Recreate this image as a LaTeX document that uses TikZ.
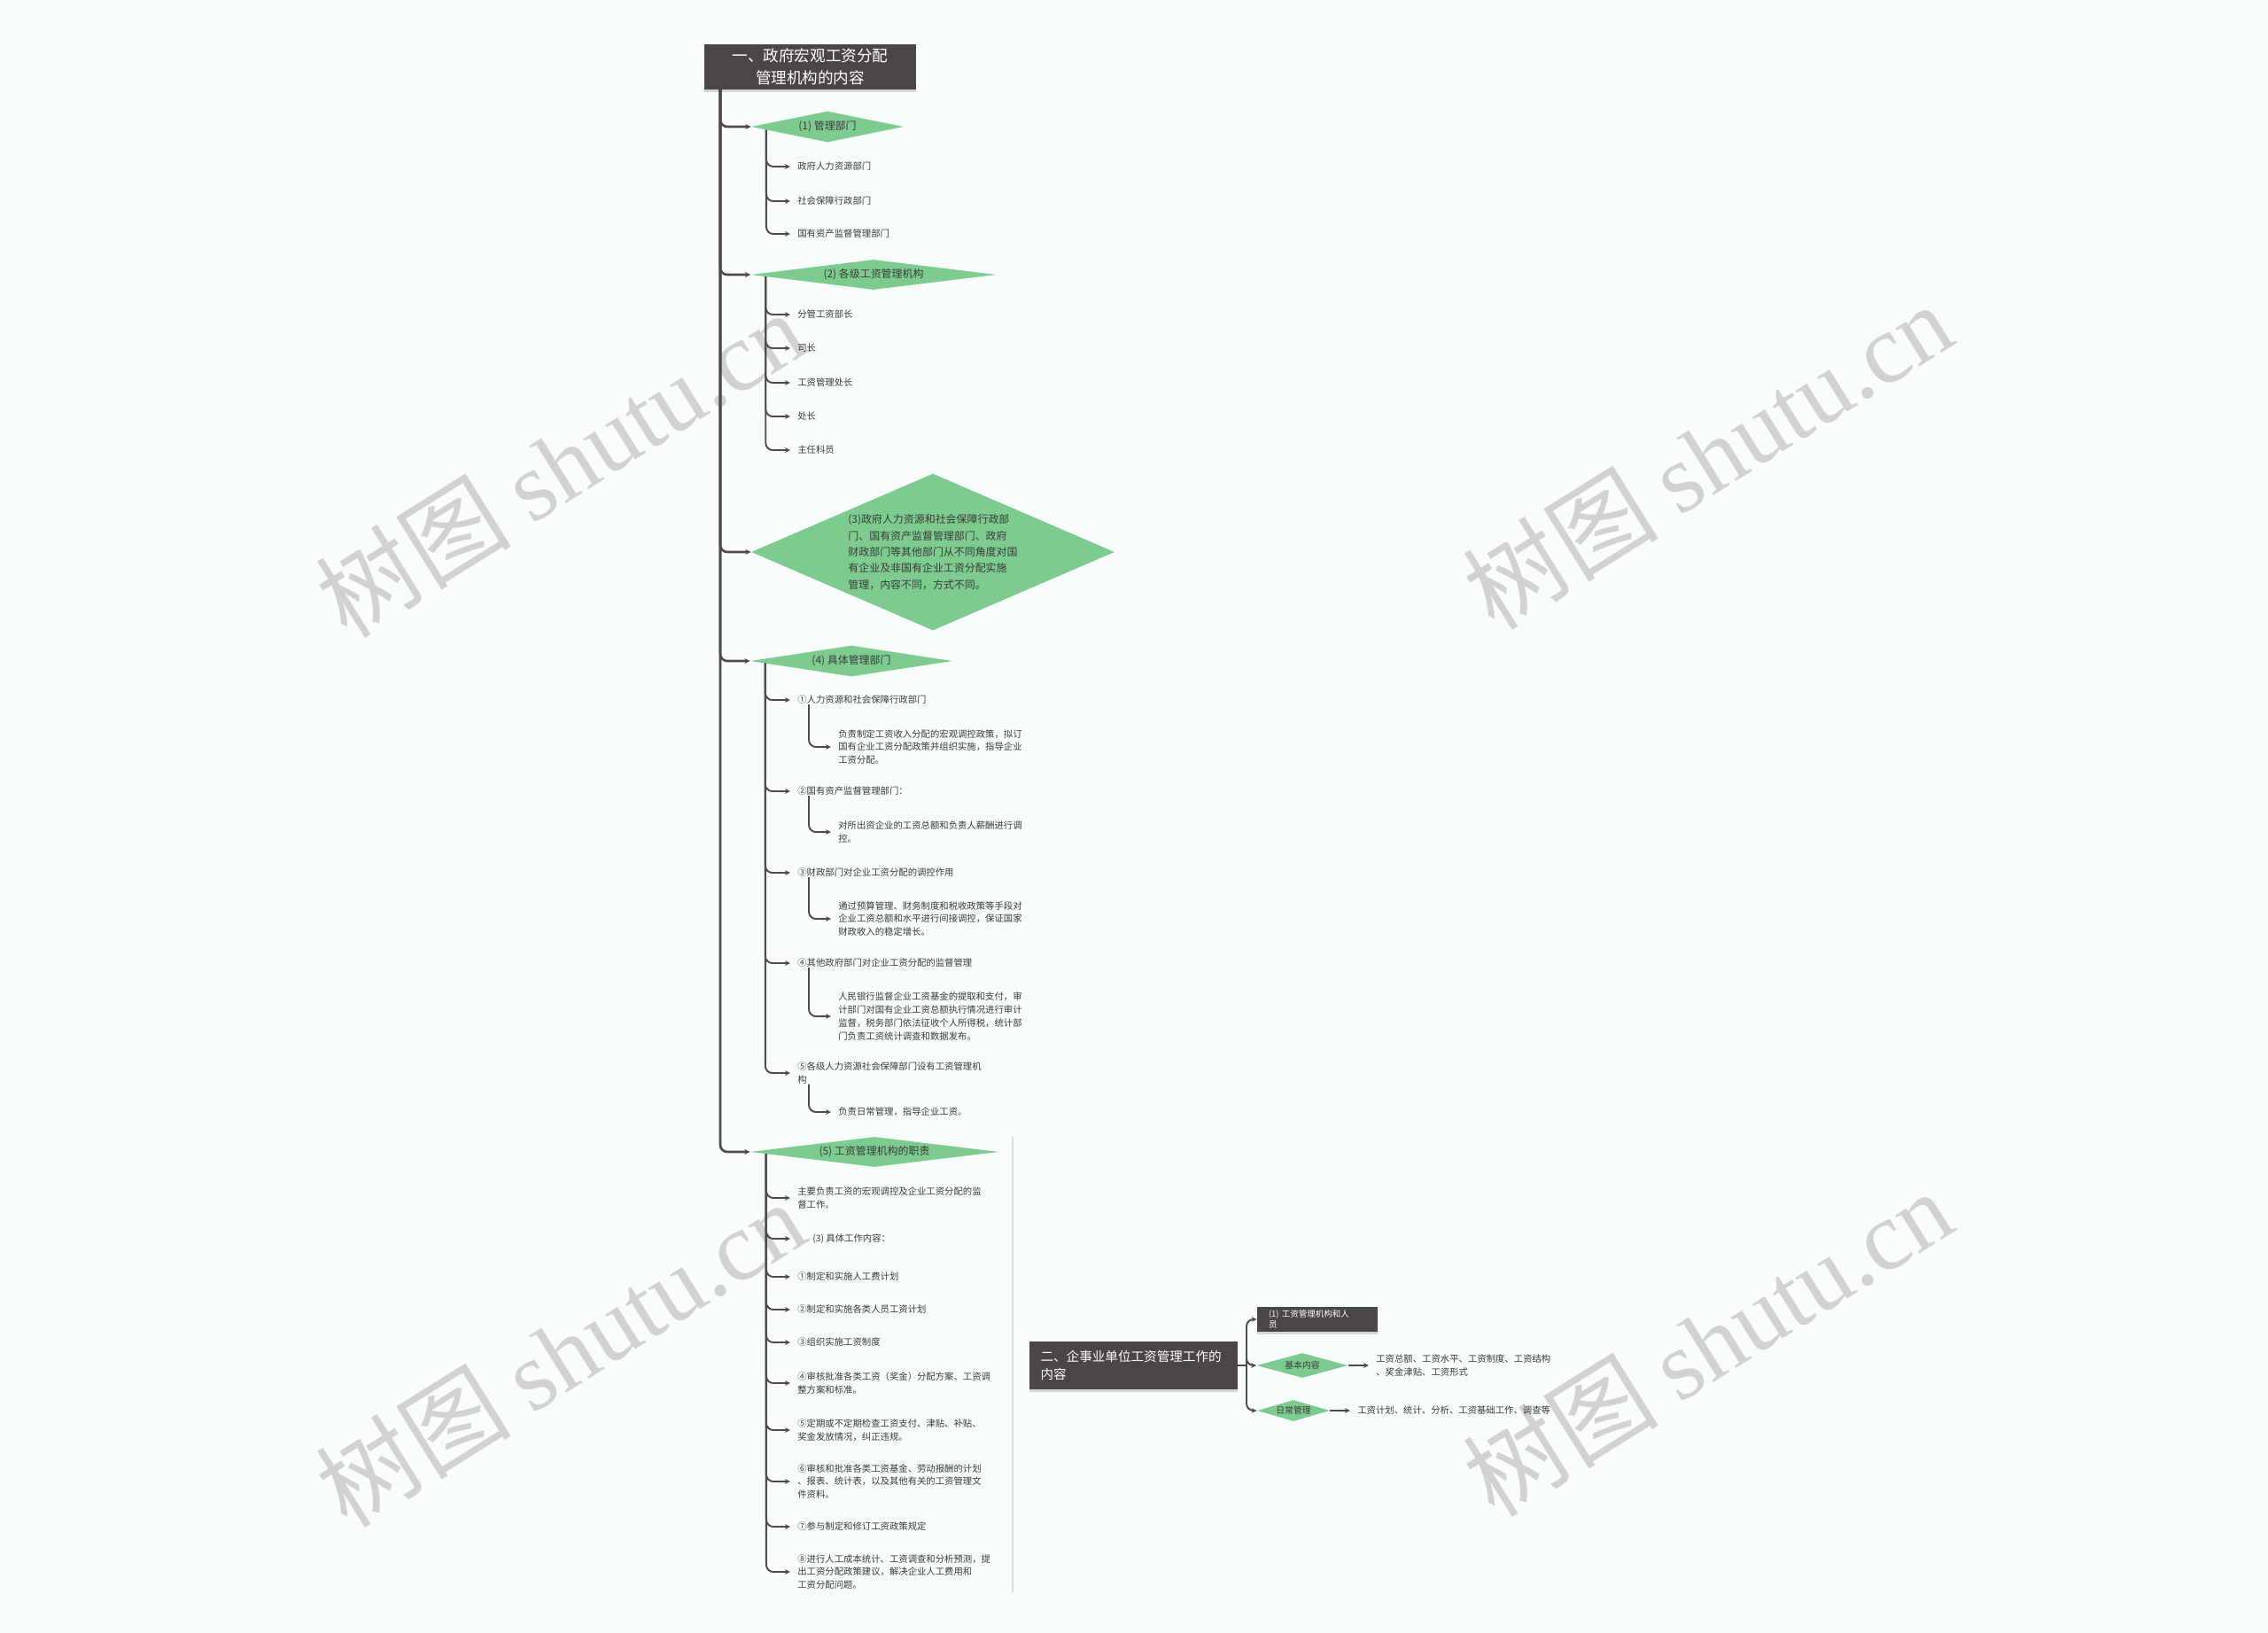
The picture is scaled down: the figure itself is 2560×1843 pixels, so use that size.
\documentclass[tikz,border=0pt]{standalone}
\usepackage{fontspec}
\setmainfont{Noto Sans CJK SC}
\newfontfamily\wmlatin{Liberation Serif}
\usetikzlibrary{shapes.geometric,arrows.meta,calc,shadows}

\definecolor{bgcol}{HTML}{F8FCFC}
\definecolor{boxcol}{HTML}{4B4546}
\definecolor{leafgreen}{HTML}{7DCB8F}
\definecolor{linecol}{HTML}{4F4A4B}
\definecolor{txtcol}{HTML}{3A3A3A}
\definecolor{wmcol}{HTML}{D2D2D2}
\definecolor{sepcol}{HTML}{DCDCDC}

\begin{document}
\begin{tikzpicture}[x=0.02cm, y=-0.02cm,
    topbox/.style={fill=boxcol, text=white, inner sep=0,
      drop shadow={shadow xshift=0pt, shadow yshift=-1.5pt, opacity=.3}},
    greendia/.style={diamond, fill=leafgreen, text=txtcol, inner sep=0,
      font=\fontsize{6.8}{9}\selectfont},
    leaf/.style={anchor=west, inner xsep=0.16cm, inner ysep=0, align=left,
      text=txtcol, font=\fontsize{5.9}{8.4}\selectfont},
    trunk/.style={draw=linecol, line width=1.5pt, rounded corners=4.5pt,
      -{Stealth[length=3.6pt,width=3.4pt]}},
    twig/.style={draw=linecol, line width=1.1pt, rounded corners=4.5pt,
      -{Stealth[length=3.4pt,width=3.2pt]}},
    wmark/.style={text=wmcol, rotate=32, font=\fontsize{63}{66}\selectfont}]
  \fill[bgcol] (0,0) rectangle (2560,1843);
  \useasboundingbox (0,0) rectangle (2560,1843);

  % watermarks
  \foreach \wx/\wy/\wn in {632/523/wm1, 1927/514/wm2, 632/1527/wm3, 1927/1515/wm4}
    \node[wmark] (\wn) at (\wx,\wy) {树图 {\wmlatin shutu.cn}};

  % part one
  \node[topbox, minimum width=4.78cm, minimum height=1.02cm, align=center,
    font=\fontsize{10}{14}\selectfont] (root) at (914.5,75.5)
    {一、政府宏观工资分配\\管理机构的内容};
  \coordinate (t0) at (813,101);

  \node[greendia, aspect=4.9, minimum width=3.44cm, minimum height=0.70cm] (d1) at (934,143) {(1) 管理部门};
  \node[greendia, aspect=8.1, minimum width=5.54cm, minimum height=0.68cm] (d2) at (986,310) {(2) 各级工资管理机构};
  \node[greendia, aspect=2.32, minimum width=8.2cm, minimum height=3.54cm, align=left,
    font=\fontsize{6.8}{10.5}\selectfont] (d3) at (1053,623)
    {(3)政府人力资源和社会保障行政部\\门、国有资产监督管理部门、政府\\财政部门等其他部门从不同角度对国\\有企业及非国有企业工资分配实施\\管理，内容不同，方式不同。};
  \node[greendia, aspect=6.5, minimum width=4.56cm, minimum height=0.70cm] (d4) at (961,746) {(4) 具体管理部门};
  \node[greendia, aspect=8.2, minimum width=5.6cm, minimum height=0.68cm] (d5) at (987,1300) {(5) 工资管理机构的职责};
  \foreach \d in {d1,d2,d3,d4,d5}
    \draw[trunk] (t0) |- (\d.west);

  % (1)
  \foreach \y/\n/\txt in {188/c11/政府人力资源部门, 227/c12/社会保障行政部门, 264/c13/国有资产监督管理部门}{
    \node[leaf] (\n) at (892,\y) {\txt};
    \draw[twig] ($(d1.west)!0.2!(d1.south)$) |- (\n.west);
  }

  % (2)
  \foreach \y/\n/\txt in {355/c21/分管工资部长, 393/c22/司长, 432/c23/工资管理处长, 470/c24/处长, 508/c25/主任科员}{
    \node[leaf] (\n) at (892,\y) {\txt};
    \draw[twig] ($(d2.west)!0.123!(d2.south)$) |- (\n.west);
  }

  % (4)
  \foreach \y/\n/\txt/\ys/\txs in {
      790/e1/{①人力资源和社会保障行政部门}/843/{负责制定工资收入分配的宏观调控政策，拟订\\国有企业工资分配政策并组织实施，指导企业\\工资分配。},
      893/e2/{②国有资产监督管理部门：}/939/{对所出资企业的工资总额和负责人薪酬进行调\\控。},
      985/e3/{③财政部门对企业工资分配的调控作用}/1037/{通过预算管理、财务制度和税收政策等手段对\\企业工资总额和水平进行间接调控，保证国家\\财政收入的稳定增长。},
      1087/e4/{④其他政府部门对企业工资分配的监督管理}/1147/{人民银行监督企业工资基金的提取和支付，审\\计部门对国有企业工资总额执行情况进行审计\\监督，税务部门依法征收个人所得税，统计部\\门负责工资统计调查和数据发布。},
      1211/e5/{⑤各级人力资源社会保障部门设有工资管理机\\构}/1255/{负责日常管理，指导企业工资。}}{
    \node[leaf] (\n) at (892,\y) {\txt};
    \draw[twig] ($(d4.west)!0.15!(d4.south)$) |- (\n.west);
    \node[leaf] (\n-s) at (938,\ys) {\txs};
    \draw[twig] ($(\n.south west)+(21,0)$) |- (\n-s.west);
  }

  % (5)
  \foreach \y/\n/\txt in {
      1352/f1/{主要负责工资的宏观调控及企业工资分配的监\\督工作。},
      1398/f2/{\hspace*{0.34cm}(3) 具体工作内容：},
      1441/f3/{①制定和实施人工费计划},
      1478/f4/{②制定和实施各类人员工资计划},
      1515/f5/{③组织实施工资制度},
      1561/f6/{④审核批准各类工资（奖金）分配方案、工资调\\整方案和标准。},
      1614/f7/{⑤定期或不定期检查工资支付、津贴、补贴、\\奖金发放情况，纠正违规。},
      1672/f8/{⑥审核和批准各类工资基金、劳动报酬的计划\\、报表、统计表，以及其他有关的工资管理文\\件资料。},
      1723/f9/{⑦参与制定和修订工资政策规定},
      1774/f10/{⑧进行人工成本统计、工资调查和分析预测，提\\出工资分配政策建议，解决企业人工费用和\\工资分配问题。}}{
    \node[leaf] (\n) at (892,\y) {\txt};
    \draw[twig] ($(d5.west)!0.13!(d5.south)$) |- (\n.west);
  }
  \draw[sepcol, line width=1pt] (1143,1283) -- (1143,1797);

  % part two
  \node[topbox, minimum width=4.7cm, minimum height=1.08cm, text width=4.2cm, align=left,
    font=\fontsize{8.3}{11.4}\selectfont] (root2) at (1279.5,1541)
    {二、企事业单位工资管理工作的\\内容};
  \coordinate (j2) at (1407,1541);
  \node[topbox, minimum width=2.72cm, minimum height=0.56cm, text width=2.2cm, align=left,
    font=\fontsize{5.4}{6.8}\selectfont] (sb) at (1487,1489) {(1) 工资管理机构和人\\员};
  \node[greendia, aspect=3.7, minimum width=2.06cm, minimum height=0.56cm,
    font=\fontsize{5.6}{7}\selectfont] (r1) at (1470,1541) {基本内容};
  \node[greendia, aspect=3.4, minimum width=1.64cm, minimum height=0.48cm,
    font=\fontsize{5.6}{7}\selectfont] (r2) at (1460,1592) {日常管理};
  \node[leaf] (r1t) at (1545,1541) {工资总额、工资水平、工资制度、工资结构\\、奖金津贴、工资形式};
  \node[leaf] (r2t) at (1524,1592) {工资计划、统计、分析、工资基础工作、调查等};
  \draw[linecol, line width=1.1pt] (root2.east) -- (j2);
  \foreach \n in {sb,r1,r2}
    \draw[twig] (j2) |- (\n.west);
  \draw[twig] (r1.east) -- (r1t.west);
  \draw[twig] (r2.east) -- (r2t.west);
\end{tikzpicture}
\end{document}
